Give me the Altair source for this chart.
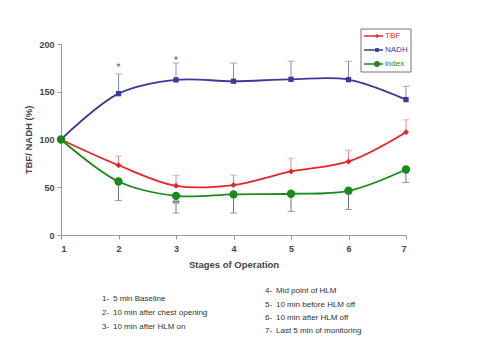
import altair as alt
import pandas as pd

# ---- data ----
stages = [1, 2, 3, 4, 5, 6, 7]
series_names = ["TBF", "NADH", "index"]
tbf = [100, 73, 51.5, 52.3, 66.5, 77, 107.7]
tbf_err = [0, 9.6, 11, 10.4, 14, 11.8, 12.9]        # upward
nadh = [100, 148, 162.4, 161, 163, 162.7, 141.8]
nadh_err = [0, 20.6, 17.6, 19, 19, 19.3, 13.9]     # upward
index = [100, 56, 41, 42.5, 43.2, 46.3, 68.6]
index_err = [0, 19.8, 18, 19.5, 18.5, 19.5, 13.6]  # downward

star_stage = [2, 3, 3]
star_value = [177.5, 185, 34]
star_text = ["*", "*", "**"]

note_nums = ["1-", "2-", "3-", "4-", "5-", "6-", "7-"]
note_texts = ["5 min Baseline", "10 min after chest opening", "10 min after HLM on",
              "Mid point of HLM", "10 min before  HLM off", "10 min after HLM off",
              "Last 5 min of monitoring"]

colors = ["#e8232a", "#3b3b9c", "#1b8a1b"]
err_colors = ["#ee8a8e", "#8a8ac4", "#6a7a6a"]
shapes = ["diamond", "square", "circle"]
sizes = [35, 28, 70]

FONT = "Liberation Sans"
W, H = 345, 191

rows = []
for name, vals, errs, sign in [("TBF", tbf, tbf_err, 1), ("NADH", nadh, nadh_err, 1),
                               ("index", index, index_err, -1)]:
    for s, v, e in zip(stages, vals, errs):
        rows.append({"stage": s, "value": v, "end": v + sign * e, "series": name})
df = pd.DataFrame(rows)

xs = alt.Scale(domain=[1, 7], nice=False, zero=False)
ys = alt.Scale(domain=[0, 200], nice=False)
x_enc = alt.X("stage:Q", scale=xs,
              axis=alt.Axis(values=stages, title="Stages of Operation", format="d",
                            grid=False, tickSize=4, labelPadding=5, titlePadding=6))
y_enc = alt.Y("value:Q", scale=ys,
              axis=alt.Axis(values=[0, 50, 100, 150, 200], title="TBF/ NADH (%)",
                            grid=False, tickSize=4, labelPadding=3, titlePadding=5))
x_plain = alt.X("stage:Q", scale=xs)

layers = []
for name, c, ec, sh, sz in zip(series_names, colors, err_colors, shapes, sizes):
    d = df[df.series == name]
    d_err = d[d.stage > 1]
    base = alt.Chart(d)
    rule = alt.Chart(d_err).mark_rule(color=ec, strokeWidth=1).encode(
        x=x_plain, y=alt.Y("value:Q", scale=ys), y2="end:Q")
    cap = alt.Chart(d_err).mark_tick(color=ec, orient="horizontal", size=7, thickness=1).encode(
        x=x_plain, y=alt.Y("end:Q", scale=ys))
    line = base.mark_line(color=c, strokeWidth=1.8, interpolate="catmull-rom").encode(
        x=x_enc, y=y_enc)
    pts = base.mark_point(color=c, filled=True, opacity=1, shape=sh, size=sz).encode(
        x=x_plain, y=alt.Y("value:Q", scale=ys))
    layers += [rule, cap, line, pts]

stars = alt.Chart(pd.DataFrame({"stage": star_stage, "value": star_value, "t": star_text})).mark_text(
    font=FONT, fontSize=10, dy=2.5).encode(x=x_plain, y=alt.Y("value:Q", scale=ys), text="t:N",
                                          color=alt.value("#555"))
layers.append(stars)

# ---- legend box (pixel layout) ----
leg_rows = []
ly = [-8, 6, 20]
for i, name in enumerate(series_names):
    leg_rows.append({"series": name, "py": ly[i], "x1": 303, "x2": 322, "xm": 316, "xt": 324})
leg = pd.DataFrame(leg_rows)
box = alt.Chart(pd.DataFrame({"a": [0]})).mark_rect(fill="white", stroke="#777", strokeWidth=1).encode(
    x=alt.value(300), x2=alt.value(350), y=alt.value(-15), y2=alt.value(28))
layers.append(box)
for i, name in enumerate(series_names):
    dl = leg[leg.series == name]
    layers.append(alt.Chart(dl).mark_rule(color=colors[i], strokeWidth=1.5).encode(
        x=alt.X("x1:Q", scale=None), x2="x2:Q", y=alt.Y("py:Q", scale=None)))
    layers.append(alt.Chart(dl).mark_point(color=colors[i], filled=True, opacity=1,
                                           shape=shapes[i], size=sizes[i] * 0.5).encode(
        x=alt.X("xm:Q", scale=None), y=alt.Y("py:Q", scale=None)))
    layers.append(alt.Chart(dl).mark_text(font=FONT, fontSize=8, align="left").encode(
        x=alt.X("xt:Q", scale=None), y=alt.Y("py:Q", scale=None), text="series:N",
        color=alt.value(colors[i])))

# ---- notes below the chart ----
note_x = [41, 41, 41, 204, 204, 204, 204]
note_y = [255, 269, 283, 247, 261, 274, 287]
notes = pd.DataFrame({"num": note_nums, "txt": note_texts, "nx": note_x, "ny": note_y})
notes["tx"] = notes.nx + 11
layers.append(alt.Chart(notes).mark_text(font=FONT, fontSize=8, align="left").encode(
    x=alt.X("nx:Q", scale=None), y=alt.Y("ny:Q", scale=None), text="num:N",
    color=alt.value("#333")))
layers.append(alt.Chart(notes).mark_text(font=FONT, fontSize=8, align="left").encode(
    x=alt.X("tx:Q", scale=None), y=alt.Y("ny:Q", scale=None), text="txt:N",
    color=alt.value("#333")))

chart = alt.layer(*layers).properties(
    width=W, height=H, autosize=alt.AutoSizeParams(type="none"),
    padding={"left": 53, "top": 36, "right": 66, "bottom": 117},
    background="white",
).configure_view(stroke=None).configure_axis(
    domainColor="#999", tickColor="#999", labelFont=FONT, titleFont=FONT,
    labelFontSize=9, labelFontWeight="bold", labelColor="#444",
    titleFontSize=9.5, titleFontWeight="bold", titleColor="#444",
)

chart.save("out.html", embed_options={"renderer": "svg", "actions": False})
